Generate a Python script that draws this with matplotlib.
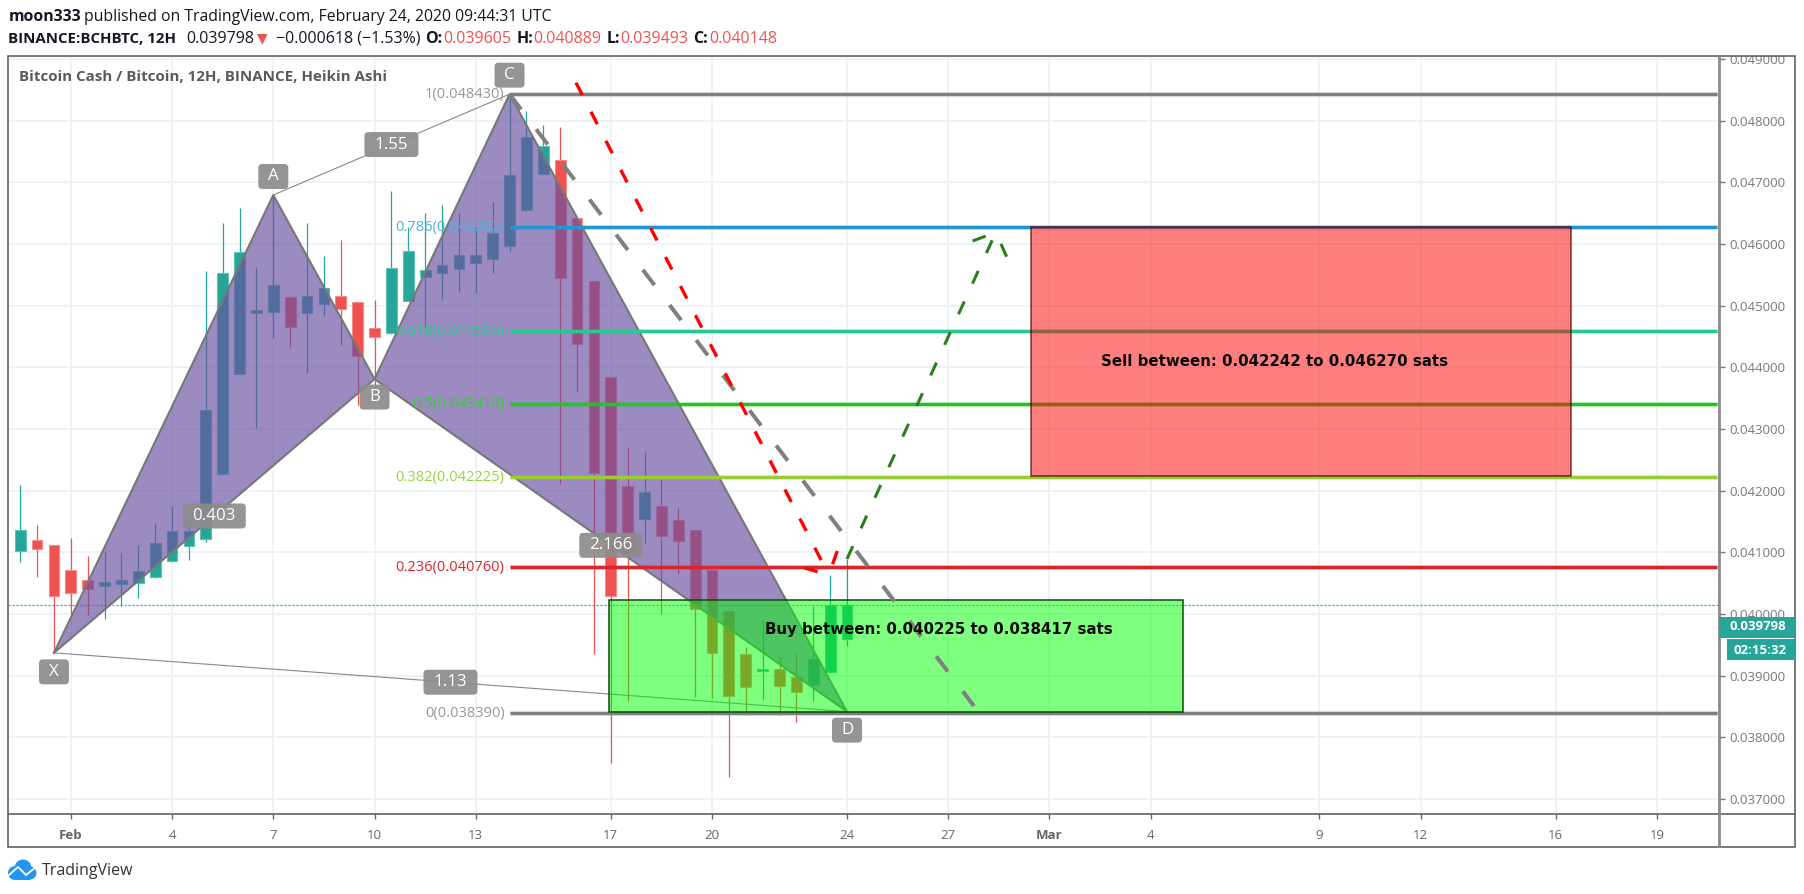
import matplotlib
matplotlib.use('Agg')
import matplotlib.pyplot as plt
import matplotlib.patches as patches
from matplotlib.lines import Line2D
from matplotlib.transforms import Affine2D
import numpy as np

W, H = 1804, 894
TEXT_FONT = ['Open Sans', 'DejaVu Sans']
plt.rcParams['font.family'] = TEXT_FONT

# candles, 12H, in millionths of a price unit
opens = [41027, 41200, 41120, 40714, 40552, 40460, 40482, 40498, 40606, 40865,
         41108, 41212, 42271, 43892, 44877, 44902, 45136, 44881, 45027, 45157,
         45060, 44638, 44557, 45081, 45470, 45530, 45595, 45692, 45757, 45973,
         46552, 47135, 47362, 46422, 45400, 43839, 42076, 41541, 41752, 41525,
         41363, 40714, 40049, 39357, 39076, 39114, 38979, 38854, 39060, 39595]
highs = [42092, 41444, 41120, 41233, 40941, 41011, 40990, 41120, 41476, 41752,
         41638, 45562, 46346, 46584, 45632, 46795, 45150, 46346, 45806, 46065,
         45060, 45092, 46860, 46276, 46503, 46633, 46503, 46276, 46681, 48416,
         48157, 47930, 47897, 46430, 45400, 43839, 42692, 42644, 42206, 41719,
         41363, 40714, 40049, 39466, 39903, 39303, 39368, 40135, 40633, 40892]
lows = [40849, 40606, 39373, 39957, 39984, 39915, 40135, 40260, 40590, 40850,
        40876, 41173, 42260, 43880, 43012, 44476, 44314, 43908, 44833, 44363,
        43390, 43633, 44540, 45070, 44638, 45108, 45222, 45206, 45530, 45871,
        46540, 47120, 42109, 43600, 39352, 37585, 38595, 41152, 40001, 40649,
        38660, 38639, 37363, 38363, 38606, 38363, 38254, 38595, 39050, 39487]
closes = [41363, 41050, 40297, 40336, 40401, 40515, 40552, 40693, 41147, 41347,
          41347, 43309, 45535, 45875, 44930, 45335, 44659, 45157, 45287, 44946,
          44189, 44492, 45611, 45887, 45579, 45660, 45822, 45822, 46179, 47119,
          47735, 47589, 45449, 44379, 42282, 40297, 40990, 41979, 41270, 41189,
          40082, 39368, 38671, 38817, 39101, 38838, 38736, 39276, 40147, 40148]

FIRST_BAR_DAY = -1.5  # days after Feb 1
BAR_STEP = 0.5

date_ticks = [0, 3, 6, 9, 12, 16, 19, 23, 26, 29, 32, 37, 40, 44, 47]
date_labels = ['Feb', '4', '7', '10', '13', '17', '20', '24', '27', 'Mar', '4', '9', '12', '16', '19']
price_ticks = [0.037, 0.038, 0.039, 0.040, 0.041, 0.042, 0.043, 0.044, 0.045, 0.046, 0.047, 0.048, 0.049]

fib_levels = [0.048430, 0.046282, 0.044595, 0.043410, 0.042225, 0.040760, 0.038390]
fib_names = ['1(0.048430)', '0.786(0.046282)', '0.618(0.044595)', '0.5(0.043410)',
             '0.382(0.042225)', '0.236(0.040760)', '0(0.038390)']
fib_colors = ['#808080', '#2196d0', '#26c98f', '#22c322', '#9acd32', '#d9262c', '#808080']
fib_text_colors = ['#999999', '#4fb0e0', '#26c98f', '#3cc93c', '#9ad43c', '#d9262c', '#999999']

pattern_names = ['X', 'A', 'B', 'C', 'D']
pattern_days = [-0.5, 6, 9, 13, 23]
pattern_prices = [0.03937, 0.046795, 0.04381, 0.04843, 0.038417]

buy_days = [15.96, 32.96]
buy_prices = [0.038417, 0.040225]
sell_days = [28.44, 44.45]
sell_prices = [0.042242, 0.04627]

gray_path_days = [13, 26.76]
gray_path_prices = [0.04843, 0.038509]
red_path_days = [14.97, 22.46]
red_path_prices = [0.048616, 0.040633]
red_barb_days = [21.73, 22.71]
red_barb_prices = [0.040751, 0.041022]
green_path_days = [23, 27.41]
green_path_prices = [0.040893, 0.04619]
green_barb_days = [26.72, 27.73]
green_barb_prices = [0.046049, 0.045794]

last_close = 0.040148

px = Affine2D().scale(1, -1).translate(0, H)  # figure pixels, y down

fig = plt.figure(figsize=(W / 100, H / 100), dpi=100, facecolor='white')
ax = fig.add_axes([8.4 / W, 1 - 814 / H, (1718.7 - 8.4) / W, (814 - 56) / H])
ax.set_xlim(-1.85, 48.83)
ax.set_ylim(0.036757, 0.049049)
for s in ax.spines.values():
    s.set_visible(False)

ax.set_xticks(date_ticks, date_labels)
ax.set_yticks(price_ticks, ['%.6f' % p for p in price_ticks])
ax.grid(True, color='#edf2f7', linewidth=1.3, zorder=0)
ax.set_axisbelow(True)
ax.tick_params(axis='y', left=False, labelleft=False, right=True, labelright=True,
               length=4.5, width=1, color='#777777', labelcolor='#787878', labelsize=9.5, pad=3.5)
ax.tick_params(axis='x', length=3.5, width=1, color='#666666', labelcolor='#666666', labelsize=9.5, pad=7)
ax.get_xticklabels()[0].set_fontweight('bold')
ax.get_xticklabels()[9].set_fontweight('bold')

# candles
o, h, l, c = [np.array(a) / 1e6 for a in (opens, highs, lows, closes)]
days = FIRST_BAR_DAY + BAR_STEP * np.arange(len(o))
up = c >= o
cols = np.where(up, '#26a69a', '#ef5350')
ax.vlines(days, l, h, colors=cols, linewidth=0.9, zorder=2)
ax.bar(days, np.abs(c - o), bottom=np.minimum(o, c), width=0.32, color=cols,
       edgecolor=np.where(up, '#5cc0b6', '#f58a88'), linewidth=0.8, zorder=2.1)

# last price
ax.axhline(last_close, color='#26a69a', linewidth=0.9, linestyle=(0, (1.6, 1.6)), zorder=2.2)

# harmonic pattern
pd_, pp = pattern_days, pattern_prices
ax.fill([pd_[0], pd_[1], pd_[2]], [pp[0], pp[1], pp[2]], color='#694fa1', alpha=0.66, lw=0, zorder=3)
ax.fill([pd_[2], pd_[3], pd_[4]], [pp[2], pp[3], pp[4]], color='#694fa1', alpha=0.66, lw=0, zorder=3)
ax.plot(pd_, pp, color='#777777', linewidth=1.5, zorder=3.1)
ax.plot([pd_[0], pd_[2], pd_[4]], [pp[0], pp[2], pp[4]], color='#777777', linewidth=1.5, zorder=3.1)
ax.plot([pd_[1], pd_[3]], [pp[1], pp[3]], color='#888888', linewidth=0.8, zorder=3.1)
ax.plot([pd_[0], pd_[4]], [pp[0], pp[4]], color='#888888', linewidth=0.8, zorder=3.1)

# fib levels
for lev, name, col, tcol in zip(fib_levels, fib_names, fib_colors, fib_text_colors):
    ax.plot([13, 48.78], [lev, lev], color=col, linewidth=3.4, alpha=0.35, solid_capstyle='butt', zorder=3.3)
    ax.plot([13, 48.78], [lev, lev], color=col, linewidth=2.2, solid_capstyle='butt', zorder=3.4)
    ax.annotate(name, (13, lev), xytext=(-3.6, -0.5), textcoords='offset points', ha='right', va='center',
                color=tcol, fontsize=10.5, zorder=3.5)

# boxes
ax.add_patch(patches.Rectangle((buy_days[0], buy_prices[0]), buy_days[1] - buy_days[0], buy_prices[1] - buy_prices[0],
                               facecolor=(0, 1, 0, 0.5), edgecolor='#0b4d0b', linewidth=1.1, zorder=4))
ax.add_patch(patches.Rectangle((sell_days[0], sell_prices[0]), sell_days[1] - sell_days[0], sell_prices[1] - sell_prices[0],
                               facecolor=(1, 0, 0, 0.5), edgecolor=(0.3, 0, 0, 0.75), linewidth=1.1, zorder=4))
ax.text(25.72, 0.039757, 'Buy between: 0.040225 to 0.038417 sats',
        ha='center', va='center', fontsize=10.8, fontweight='bold', family='DejaVu Sans', color='#0a0a0a', zorder=6)
ax.text(35.67, 0.044103, 'Sell between: 0.042242 to 0.046270 sats',
        ha='center', va='center', fontsize=10.8, fontweight='bold', family='DejaVu Sans', color='#0a0a0a', zorder=6)

# drawn arrows
gray_ls = (0, (4.75, 6.2))
ax.plot(gray_path_days, gray_path_prices, color='#808080', linewidth=2.9, linestyle=gray_ls, dash_capstyle='butt', zorder=5)
red_ls = (0, (4.2, 5.6))
ax.plot(red_path_days, red_path_prices, color='#ff0000', linewidth=2.4, linestyle=red_ls, dash_capstyle='butt', zorder=5.1)
for bd, bp in zip(red_barb_days, red_barb_prices):
    ax.plot([bd, red_path_days[1]], [bp, red_path_prices[1]], color='#ff0000', linewidth=2.4, linestyle=red_ls,
            dash_capstyle='butt', zorder=5.1)
green_ls = (0, (4.6, 6.4))
ax.plot(green_path_days, green_path_prices, color='#2e7d1e', linewidth=2.2, linestyle=green_ls, dash_capstyle='butt', zorder=5.1)
for bd, bp in zip(green_barb_days, green_barb_prices):
    ax.plot([bd, green_path_days[1]], [bp, green_path_prices[1]], color='#2e7d1e', linewidth=2.2, linestyle=green_ls,
            dash_capstyle='butt', zorder=5.1)


def tag(x, y, w, text):
    hh = 25
    ax.add_patch(patches.FancyBboxPatch((x - w / 2 + 3, y - hh / 2 + 3), w - 6, hh - 6, boxstyle='round,pad=3,rounding_size=4',
                                        transform=px, facecolor='#8c8c8c', edgecolor='none', alpha=0.92,
                                        clip_on=False, zorder=7))
    ax.text(x, y, text, transform=px, ha='center', va='center', color='white', fontsize=12.2, zorder=8)


def to_px(day, price):
    x, y = ax.transData.transform((day, price))
    return x, H - y


# point labels sit above or below the pivot, ratio labels on the middle of their leg
point_offsets = [19, -18.5, 18, -19, 18.5]
for name, d, p, off in zip(pattern_names, pattern_days, pattern_prices, point_offsets):
    x, y = to_px(d, p)
    tag(x, y + off, 30, name)
for i, j, txt, w in [(0, 2, '0.403', 63), (1, 3, '1.55', 54), (0, 4, '1.13', 54), (2, 4, '2.166', 63)]:
    x1, y1 = to_px(pattern_days[i], pattern_prices[i])
    x2, y2 = to_px(pattern_days[j], pattern_prices[j])
    tag((x1 + x2) / 2, (y1 + y2) / 2, w, txt)

ax.text(19, 76.7, 'Bitcoin Cash / Bitcoin, 12H, BINANCE, Heikin Ashi', transform=px, ha='left', va='center',
        fontsize=10.9, fontweight='bold', color='#5a5a5a', zorder=8)


def fline(xs, ys, col, lw, z=3):
    fig.add_artist(Line2D(xs, ys, transform=px, color=col, linewidth=lw, zorder=z, solid_capstyle='butt'))


def ftext(x, y, s, col='#131722', size=11.5, weight='normal', ha='left', fam=None):
    fig.text(x, y, s, transform=px, color=col, fontsize=size, fontweight=weight, ha=ha, va='center',
             family=fam if fam else TEXT_FONT, zorder=5)


# hide the part of the top price label that sticks out of the frame
fig.add_artist(patches.Rectangle((1722, 42), 70, 14, transform=px, facecolor='white', edgecolor='none', zorder=2))
# frame
fig.add_artist(patches.Rectangle((8.4, 56), 1786.6, 791, transform=px, facecolor='none', edgecolor='#555555', linewidth=1.1, zorder=3))
fline([8.4, 1795], [814, 814], '#555555', 1.1)
fline([1718.7, 1718.7], [56, 847], '#8a8a8a', 2)

# price tags
fig.add_artist(patches.Rectangle((1718.7, 616.7), 76.3, 21, transform=px, facecolor='#26a69a', edgecolor='none', zorder=4))
fig.add_artist(patches.Rectangle((1727, 639.3), 68, 21, transform=px, facecolor='#26a69a', edgecolor='none', zorder=4))
ftext(1786, 627, '0.039798', 'white', 9.5, 'bold', ha='right')
ftext(1786, 650, '02:15:32', 'white', 9.5, 'bold', ha='right')

# header
ftext(8.4, 16.7, 'moon333', size=11.3, weight='bold')
ftext(84, 16.7, 'published on TradingView.com, February 24, 2020 09:44:31 UTC', size=11.3)
ftext(8.4, 38.7, 'BINANCE:BCHBTC, 12H', size=10.8, weight='bold')
ftext(186.4, 38.7, '0.039798', size=11.5)
ftext(257, 38.2, '▼', '#ef5350', 10, fam='DejaVu Sans')
ftext(275.5, 38.7, '−0.000618 (−1.53%)', size=11.5)
ohlc = [(425.6, 'O:', 443, '0.039605'), (516.6, 'H:', 533, '0.040889'),
        (606.7, 'L:', 620, '0.039493'), (693, 'C:', 709, '0.040148')]
for x1, name, x2, val in ohlc:
    ftext(x1, 38.7, name, size=11.5, weight='bold')
    ftext(x2, 38.7, val, '#ef5350', 11.5)

# logo
for cx, cy, r in [(15, 873, 7), (23, 868, 8.5), (30, 873, 6.5)]:
    fig.add_artist(patches.Circle((cx, cy), r, transform=px, facecolor='#2196f3', edgecolor='none', zorder=4))
fig.add_artist(patches.Rectangle((15, 872), 15, 8, transform=px, facecolor='#2196f3', edgecolor='none', zorder=4))
fig.add_artist(Line2D([9, 18, 26, 36], [875, 867, 875, 867], transform=px, color='white', linewidth=1.3, zorder=5))
ftext(41.7, 871, 'TradingView', '#333333', 11.5)

fig.savefig('out.png', dpi=100, facecolor='white')
